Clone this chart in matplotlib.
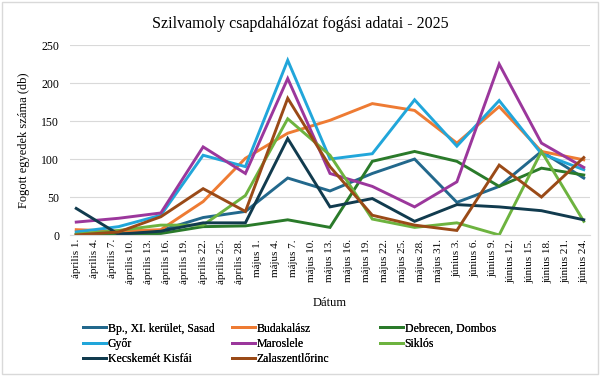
import datetime as dt

import matplotlib
matplotlib.use("Agg")
import matplotlib.pyplot as plt
from matplotlib.patches import Rectangle

plt.rcParams["font.family"] = ["Liberation Serif", "DejaVu Serif"]

START = dt.date(2025, 4, 1)

# weekly sampling dates
sample_dates = [
    "2025-04-01", "2025-04-08", "2025-04-15", "2025-04-22", "2025-04-29",
    "2025-05-06", "2025-05-13", "2025-05-20", "2025-05-27", "2025-06-03",
    "2025-06-10", "2025-06-17", "2025-06-24",
]

sasad = [1, 4, 6, 23, 31, 75, 58, 81, 100, 43, 64, 110, 75]
budakalasz = [7, 5, 7, 44, 101, 134, 151, 173, 164, 121, 169, 110, 99]
debrecen = [0, 1, 2, 11, 12, 20, 10, 97, 110, 97, 64, 88, 79]
gyor = [4, 11, 26, 105, 90, 230, 100, 107, 178, 117, 177, 107, 86]
maroslele = [17, 22, 29, 116, 81, 206, 81, 64, 37, 70, 225, 121, 89]
siklos = [1, 6, 13, 13, 52, 153, 105, 21, 10, 16, 0, 110, 18]
kecskemet = [35, 1, 5, 16, 16, 127, 37, 48, 18, 40, 37, 32, 20]
zalaszentlorinc = [0, 4, 24, 61, 31, 180, 90, 26, 13, 6, 92, 50, 102]

series = [
    ("Bp., XI. kerület, Sasad", sasad, "#22688C"),
    ("Budakalász", budakalasz, "#EE7B33"),
    ("Debrecen, Dombos", debrecen, "#2A7A2A"),
    ("Győr", gyor, "#21A6DA"),
    ("Maroslele", maroslele, "#9B379C"),
    ("Siklós", siklos, "#6DB33F"),
    ("Kecskemét Kisfái", kecskemet, "#113B4E"),
    ("Zalaszentlőrinc", zalaszentlorinc, "#9A4A17"),
]

tick_days = list(range(0, 85, 3))
month_names = {4: "április", 5: "május", 6: "június"}


def day_offset(s):
    return (dt.date.fromisoformat(s) - START).days


def tick_label(d):
    day = START + dt.timedelta(days=d)
    return f"{month_names[day.month]} {day.day}."


def main():
    fig = plt.figure(figsize=(6, 3.76), dpi=100)
    ax = fig.add_axes([0.117, 0.375, 0.866, 0.505])

    x = [day_offset(s) for s in sample_dates]
    handles = {}
    for name, values, color in series:
        (h,) = ax.plot(x, values, color=color, lw=2.1, solid_joinstyle="miter")
        handles[name] = h

    ax.set_xlim(-1, 85)
    ax.set_ylim(0, 250)
    ax.set_yticks(range(0, 251, 50))
    ax.set_xticks(tick_days)
    ax.set_xticklabels([tick_label(d) for d in tick_days], rotation=90, fontsize=8)
    ax.tick_params(axis="y", labelsize=8.5, length=0, pad=8)
    ax.tick_params(axis="x", length=0, pad=3)
    ax.grid(axis="y", color="#d9d9d9", lw=0.8)
    ax.set_axisbelow(True)
    for side in ("top", "right", "left"):
        ax.spines[side].set_visible(False)
    ax.spines["bottom"].set_color("#d9d9d9")

    ax.set_xlabel("Dátum", fontsize=9, labelpad=9)
    ax.set_ylabel("Fogott egyedek száma (db)", fontsize=9, labelpad=8)
    fig.text(0.5, 0.935, "Szilvamoly csapdahálózat fogási adatai - 2025",
             ha="center", va="center", fontsize=11.5)

    # Excel-style legend: equal-width columns, rows read left to right
    columns = [
        (0.138, ["Bp., XI. kerület, Sasad", "Győr", "Kecskemét Kisfái"]),
        (0.386, ["Budakalász", "Maroslele", "Zalaszentlőrinc"]),
        (0.633, ["Debrecen, Dombos", "Siklós"]),
    ]
    for xpos, names in columns:
        leg = fig.legend([handles[n] for n in names], names, loc="upper left",
                         bbox_to_anchor=(xpos, 0.142), frameon=False, fontsize=8.5,
                         handlelength=2.0, handletextpad=0.1, labelspacing=0.28,
                         borderpad=0, borderaxespad=0)
        fig.add_artist(leg)

    fig.patches.append(Rectangle((0.004, 0.004), 0.992, 0.992, transform=fig.transFigure,
                                 fill=False, edgecolor="#d9d9d9", lw=1))
    fig.savefig("out.png", dpi=100)
    plt.close(fig)


if __name__ == "__main__":
    main()
